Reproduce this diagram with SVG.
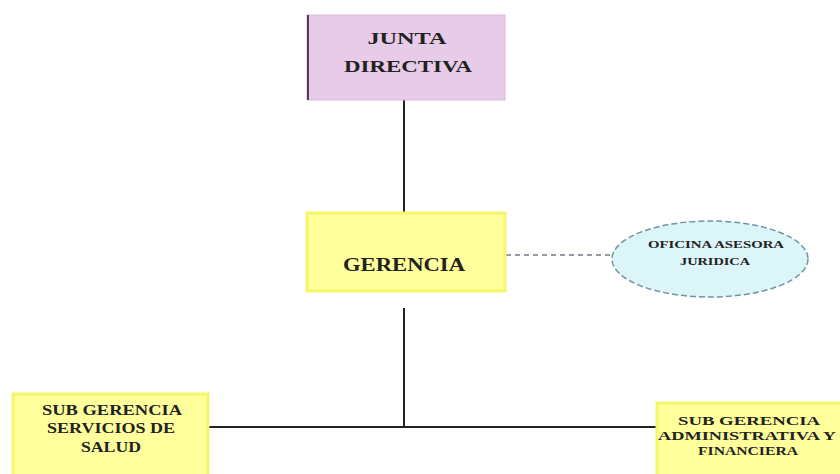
<svg xmlns="http://www.w3.org/2000/svg" width="840" height="474" viewBox="0 0 840 474">
<style>
text{font-family:"Liberation Serif","DejaVu Serif",serif;font-weight:bold;fill:#222;text-anchor:middle}
.yel{fill:#ffff9c;stroke:#f6f66a;stroke-width:3}
.ln{stroke:#222;stroke-width:2;fill:none}
</style>
<rect width="840" height="474" fill="#fff"/>
<g id="connectors">
<line class="ln" x1="404" y1="100" x2="404" y2="213"/>
<line class="ln" x1="404" y1="308" x2="404" y2="427"/>
<line class="ln" x1="208" y1="427" x2="657" y2="427"/>
<line x1="506" y1="255" x2="611" y2="255" stroke="#9a9aa6" stroke-width="2" stroke-dasharray="5,4"/>
</g>
<g id="junta">
<rect x="307" y="15" width="198" height="85" fill="#e8cbe8" stroke="#dcb8dc" stroke-width="1"/>
<line x1="308" y1="15" x2="308" y2="100" stroke="#5a3a5a" stroke-width="2"/>
<text x="407" y="44" font-size="17" textLength="79" lengthAdjust="spacingAndGlyphs">JUNTA</text>
<text x="408" y="72" font-size="17" textLength="128" lengthAdjust="spacingAndGlyphs">DIRECTIVA</text>
</g>
<g id="gerencia">
<rect class="yel" x="307" y="213" width="198" height="78"/>
<text x="404" y="271" font-size="18" textLength="122" lengthAdjust="spacingAndGlyphs">GERENCIA</text>
</g>
<g id="oficina">
<ellipse cx="710" cy="259" rx="98" ry="38" fill="#dcf5f9" stroke="#6f94a3" stroke-width="1.5" stroke-dasharray="6,3"/>
<text x="716" y="248" font-size="11" textLength="136" lengthAdjust="spacingAndGlyphs">OFICINA ASESORA</text>
<text x="715" y="265" font-size="11" textLength="70" lengthAdjust="spacingAndGlyphs">JURIDICA</text>
</g>
<g id="subsalud">
<rect class="yel" x="13" y="394" width="195" height="82"/>
<text x="112" y="415" font-size="14" textLength="140" lengthAdjust="spacingAndGlyphs">SUB GERENCIA</text>
<text x="111" y="433" font-size="14" textLength="128" lengthAdjust="spacingAndGlyphs">SERVICIOS DE</text>
<text x="111" y="452" font-size="14" textLength="60" lengthAdjust="spacingAndGlyphs">SALUD</text>
</g>
<g id="subadmin">
<rect class="yel" x="657" y="403" width="190" height="75"/>
<text x="749" y="425" font-size="13.5" textLength="142" lengthAdjust="spacingAndGlyphs">SUB GERENCIA</text>
<text x="747" y="440" font-size="13.5" textLength="178" lengthAdjust="spacingAndGlyphs">ADMINISTRATIVA Y</text>
<text x="748" y="455" font-size="13.5" textLength="100" lengthAdjust="spacingAndGlyphs">FINANCIERA</text>
</g>
</svg>
